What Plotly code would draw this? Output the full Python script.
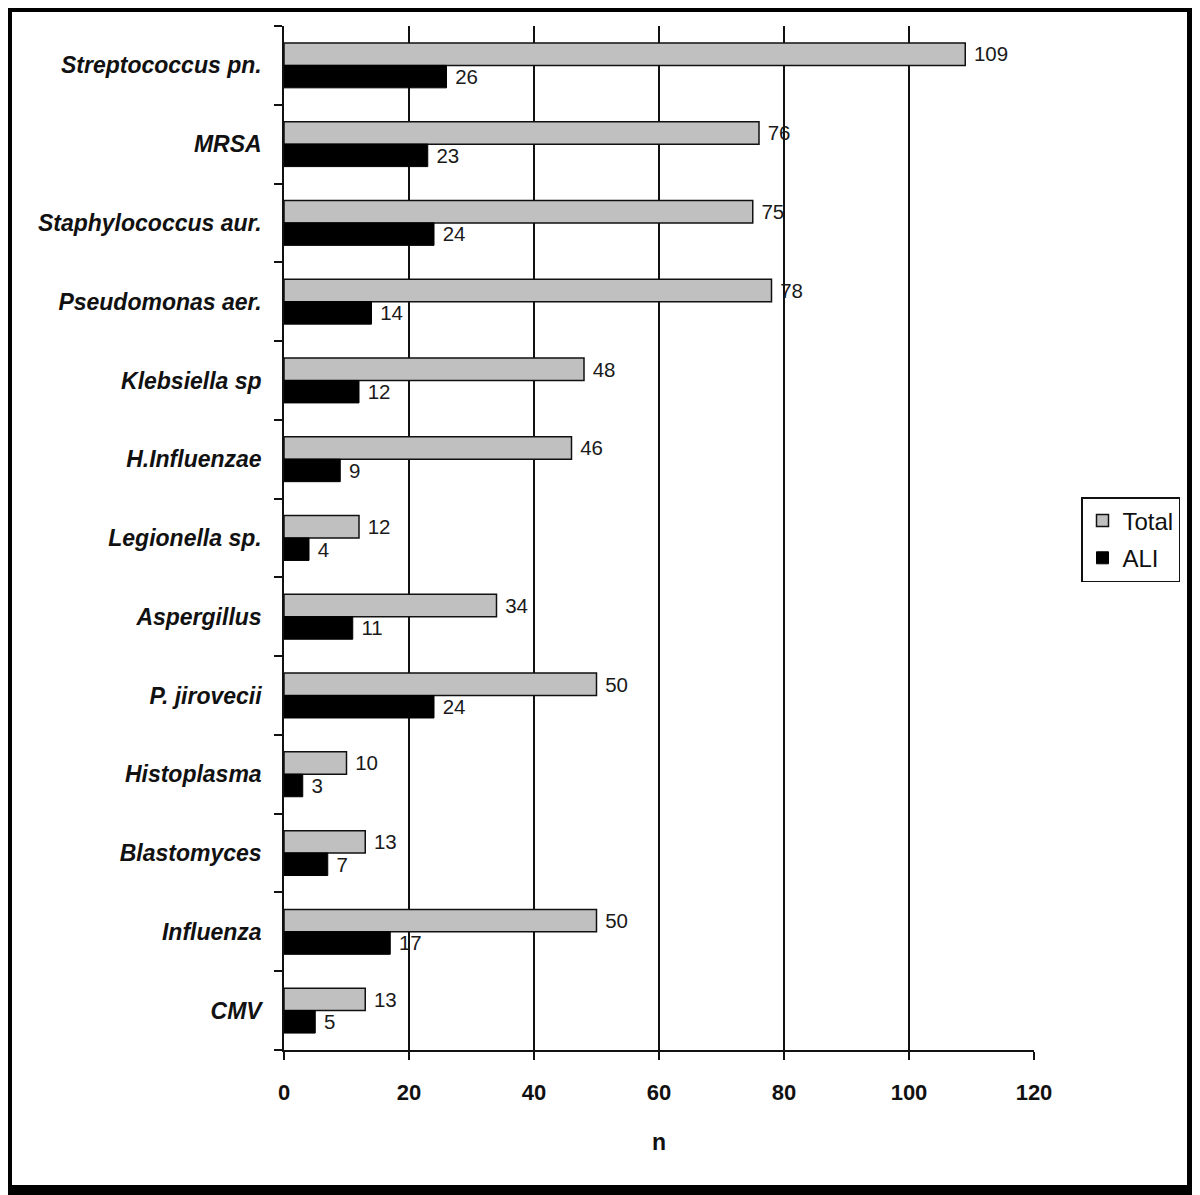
import plotly.graph_objects as go

# pathogens, top to bottom as drawn
pathogens = [
    "Streptococcus pn.", "MRSA", "Staphylococcus aur.", "Pseudomonas aer.",
    "Klebsiella sp", "H.Influenzae", "Legionella sp.", "Aspergillus",
    "P. jirovecii", "Histoplasma", "Blastomyces", "Influenza", "CMV",
]
total_n = [109, 76, 75, 78, 48, 46, 12, 34, 50, 10, 13, 50, 13]
ali_n = [26, 23, 24, 14, 12, 9, 4, 11, 24, 3, 7, 17, 5]
x_ticks = [0, 20, 40, 60, 80, 100, 120]

# the page body keeps an 8px margin, so the figure is 8px smaller than the window
W, H = 1192, 1187
ML, MR, MT, MB = 276, 166, 18, 145
PW, PH = W - ML - MR, H - MT - MB

FONT = "Liberation Sans, Arial"
label_font = dict(family=FONT, size=21, color="#1a1a1a")


def px_x(p):
    return (p - ML) / PW


def px_y(p):
    return (H - MB - p) / PH


fig = go.Figure()
fig.add_trace(go.Bar(
    y=pathogens, x=total_n, orientation="h", name="Total", legendgroup="t",
    marker=dict(color="#c0c0c0", line=dict(color="#111", width=1.5)),
    text=total_n, texttemplate=" %{text}", textposition="outside",
    textfont=label_font, cliponaxis=False,
))
fig.add_trace(go.Bar(
    y=pathogens, x=ali_n, orientation="h", name="ALI", legendgroup="a",
    marker=dict(color="#000000", line=dict(color="#000", width=1)),
    text=ali_n, texttemplate=" %{text}", textposition="outside",
    textfont=label_font, cliponaxis=False,
))

# black frame round the picture, drawn as four filled strips
for x0, x1, y0, y1 in [
    (0, W, 0, 4), (0, W, H - 10, H), (0, 4, 0, H), (W - 13, W, 0, H),
]:
    fig.add_shape(
        type="rect", xref="paper", yref="paper", layer="above",
        x0=px_x(x0), x1=px_x(x1), y0=px_y(y1), y1=px_y(y0),
        line=dict(width=0), fillcolor="black",
    )

fig.update_layout(
    width=W, height=H, margin=dict(l=ML, r=MR, t=MT, b=MB),
    paper_bgcolor="white", plot_bgcolor="white",
    barmode="group", bargap=0.43, bargroupgap=0,
    font=dict(family=FONT, color="#111"),
    showlegend=True,
    legend=dict(
        x=px_x(1073), y=px_y(489), xanchor="left", yanchor="top",
        bordercolor="#111", borderwidth=1.5, bgcolor="white",
        font=dict(size=24, color="#111"), tracegroupgap=3,
    ),
    xaxis=dict(
        range=[0, 120], tickvals=x_ticks, ticks="outside", ticklen=8,
        tickwidth=1.5, tickcolor="#111", showline=True, linecolor="#111",
        linewidth=1.5, showgrid=True, gridcolor="#111", gridwidth=1.5,
        zeroline=False, ticklabelstandoff=14,
        tickfont=dict(size=22, color="#111", family=FONT, weight="bold"),
        title=dict(text="<b>n</b>", font=dict(size=23), standoff=30),
    ),
    yaxis=dict(
        categoryorder="array", categoryarray=pathogens, autorange="reversed",
        tickson="boundaries", ticks="outside", ticklen=8, tickwidth=1.5,
        tickcolor="#111", showline=True, linecolor="#111", linewidth=1.5,
        showgrid=False, ticklabelstandoff=16,
        tickfont=dict(size=23, color="#111", family=FONT),
        tickvals=pathogens,
        ticktext=[f"<b><i>{p}</i></b>" for p in pathogens],
    ),
)

fig.write_html("out.html")
